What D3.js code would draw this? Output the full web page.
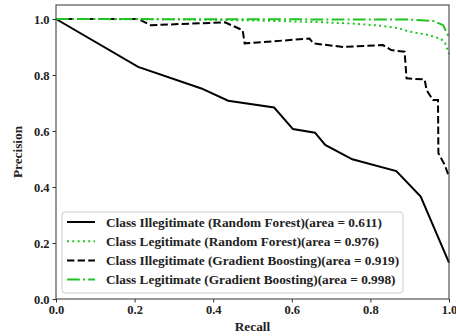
<!DOCTYPE html>
<html>
<head>
<meta charset="utf-8">
<script src="https://cdn.jsdelivr.net/npm/d3@7"></script>
<style>
  body { margin: 0; background: #fff; }
  text { font-family: "Liberation Serif", "Times New Roman", serif; font-weight: bold; }
</style>
</head>
<body>
<div id="container"></div>
<script>
// recall / precision pairs
var rfIllegitRecall = [0, 0.209, 0.370, 0.438, 0.555, 0.603, 0.659, 0.685, 0.754, 0.866, 0.928, 1.0];
var rfIllegitPrec   = [1.0, 0.829, 0.752, 0.708, 0.684, 0.607, 0.594, 0.550, 0.499, 0.457, 0.366, 0.130];

var rfLegitRecall = [0, 0.3, 0.5, 0.65, 0.75, 0.82, 0.87, 0.9, 0.95, 0.98, 0.99, 1.0];
var rfLegitPrec   = [1.0, 0.999, 0.995, 0.99, 0.984, 0.977, 0.967, 0.955, 0.942, 0.928, 0.915, 0.875];

var gbIllegitRecall = [0, 0.21, 0.24, 0.43, 0.475, 0.48, 0.645, 0.655, 0.731, 0.832, 0.853, 0.887, 0.892, 0.938, 0.943, 0.959, 0.972, 0.973, 0.989, 1.0];
var gbIllegitPrec   = [1.0, 1.0, 0.978, 0.988, 0.96, 0.913, 0.93, 0.913, 0.900, 0.907, 0.889, 0.883, 0.788, 0.784, 0.746, 0.711, 0.711, 0.521, 0.479, 0.437];

var gbLegitRecall = [0, 0.5, 0.9, 0.96, 0.985, 0.993, 1.0];
var gbLegitPrec   = [1.0, 0.999, 0.998, 0.993, 0.978, 0.954, 0.935];

var seriesNames = [
  "Class Illegitimate (Random Forest)(area = 0.611)",
  "Class Legitimate (Random Forest)(area = 0.976)",
  "Class Illegitimate (Gradient Boosting)(area = 0.919)",
  "Class Legitimate (Gradient Boosting)(area = 0.998)"
];
var xTicks = [0, 0.2, 0.4, 0.6, 0.8, 1.0];
var yTicks = [0, 0.2, 0.4, 0.6, 0.8, 1.0];

var green = "#1fc41f";
var styles = [
  {color: "black", dash: null},
  {color: green, dash: "2,3.3"},
  {color: "black", dash: "7.4,3.2"},
  {color: green, dash: "12.8,3.2,2,3.2"}
];

var series = [
  d3.zip(rfIllegitRecall, rfIllegitPrec),
  d3.zip(rfLegitRecall, rfLegitPrec),
  d3.zip(gbIllegitRecall, gbIllegitPrec),
  d3.zip(gbLegitRecall, gbLegitPrec)
];

var W = 456, H = 336;
var margin = {top: 5, right: 7, bottom: 37, left: 56};
var width = W - margin.left - margin.right,
    height = H - margin.top - margin.bottom;

var svg = d3.select("#container").append("svg")
  .attr("width", W).attr("height", H);

var g = svg.append("g")
  .attr("transform", "translate(" + margin.left + "," + margin.top + ")");

var x = d3.scaleLinear().domain([0, 1]).range([0, width]);
var y = d3.scaleLinear().domain([0, 1.05]).range([height, 0]);

var line = d3.line()
  .x(function(d) { return x(d[0]); })
  .y(function(d) { return y(d[1]); });

// draw order: black ones first so green sits on top like the original
[0, 2, 1, 3].forEach(function(i) {
  g.append("path")
    .datum(series[i])
    .attr("fill", "none")
    .attr("stroke", styles[i].color)
    .attr("stroke-width", 2)
    .attr("stroke-dasharray", styles[i].dash)
    .attr("d", line);
});

// axes
var xAxis = g.append("g")
  .attr("transform", "translate(0," + height + ")")
  .call(d3.axisBottom(x).tickValues(xTicks).tickFormat(d3.format(".1f")).tickSize(3.5).tickPadding(3));
var yAxis = g.append("g")
  .call(d3.axisLeft(y).tickValues(yTicks).tickFormat(d3.format(".1f")).tickSize(3.5).tickPadding(3));
[xAxis, yAxis].forEach(function(a) {
  a.select(".domain").remove();
  a.selectAll("line").attr("stroke", "#333");
  a.selectAll("text").attr("font-size", 12.5).attr("fill", "#222")
    .style("font-family", '"Liberation Serif", serif').style("font-weight", "bold");
});

// frame
g.append("rect")
  .attr("width", width).attr("height", height)
  .attr("fill", "none").attr("stroke", "#333").attr("stroke-width", 1);

// axis labels
svg.append("text")
  .attr("x", margin.left + width / 2).attr("y", 331)
  .attr("text-anchor", "middle").attr("font-size", 13.3).attr("fill", "#222")
  .text("Recall");
svg.append("text")
  .attr("transform", "translate(22," + (margin.top + height / 2) + ") rotate(-90)")
  .attr("text-anchor", "middle").attr("font-size", 13.3).attr("fill", "#222")
  .text("Precision");

// legend
var legend = svg.append("g").attr("transform", "translate(62,212)");
legend.append("rect")
  .attr("width", 341).attr("height", 81).attr("rx", 3)
  .attr("fill", "white").attr("fill-opacity", 0.8)
  .attr("stroke", "#ccc").attr("stroke-width", 1);
seriesNames.forEach(function(name, i) {
  var row = legend.append("g").attr("transform", "translate(0," + (10 + i * 19.2) + ")");
  row.append("line")
    .attr("x1", 5).attr("x2", 33).attr("y1", 0).attr("y2", 0)
    .attr("stroke", styles[i].color).attr("stroke-width", 2)
    .attr("stroke-dasharray", styles[i].dash);
  row.append("text")
    .attr("x", 44).attr("y", 4.5)
    .attr("font-size", 13.3).attr("fill", "#222")
    .text(name);
});
</script>
</body>
</html>
